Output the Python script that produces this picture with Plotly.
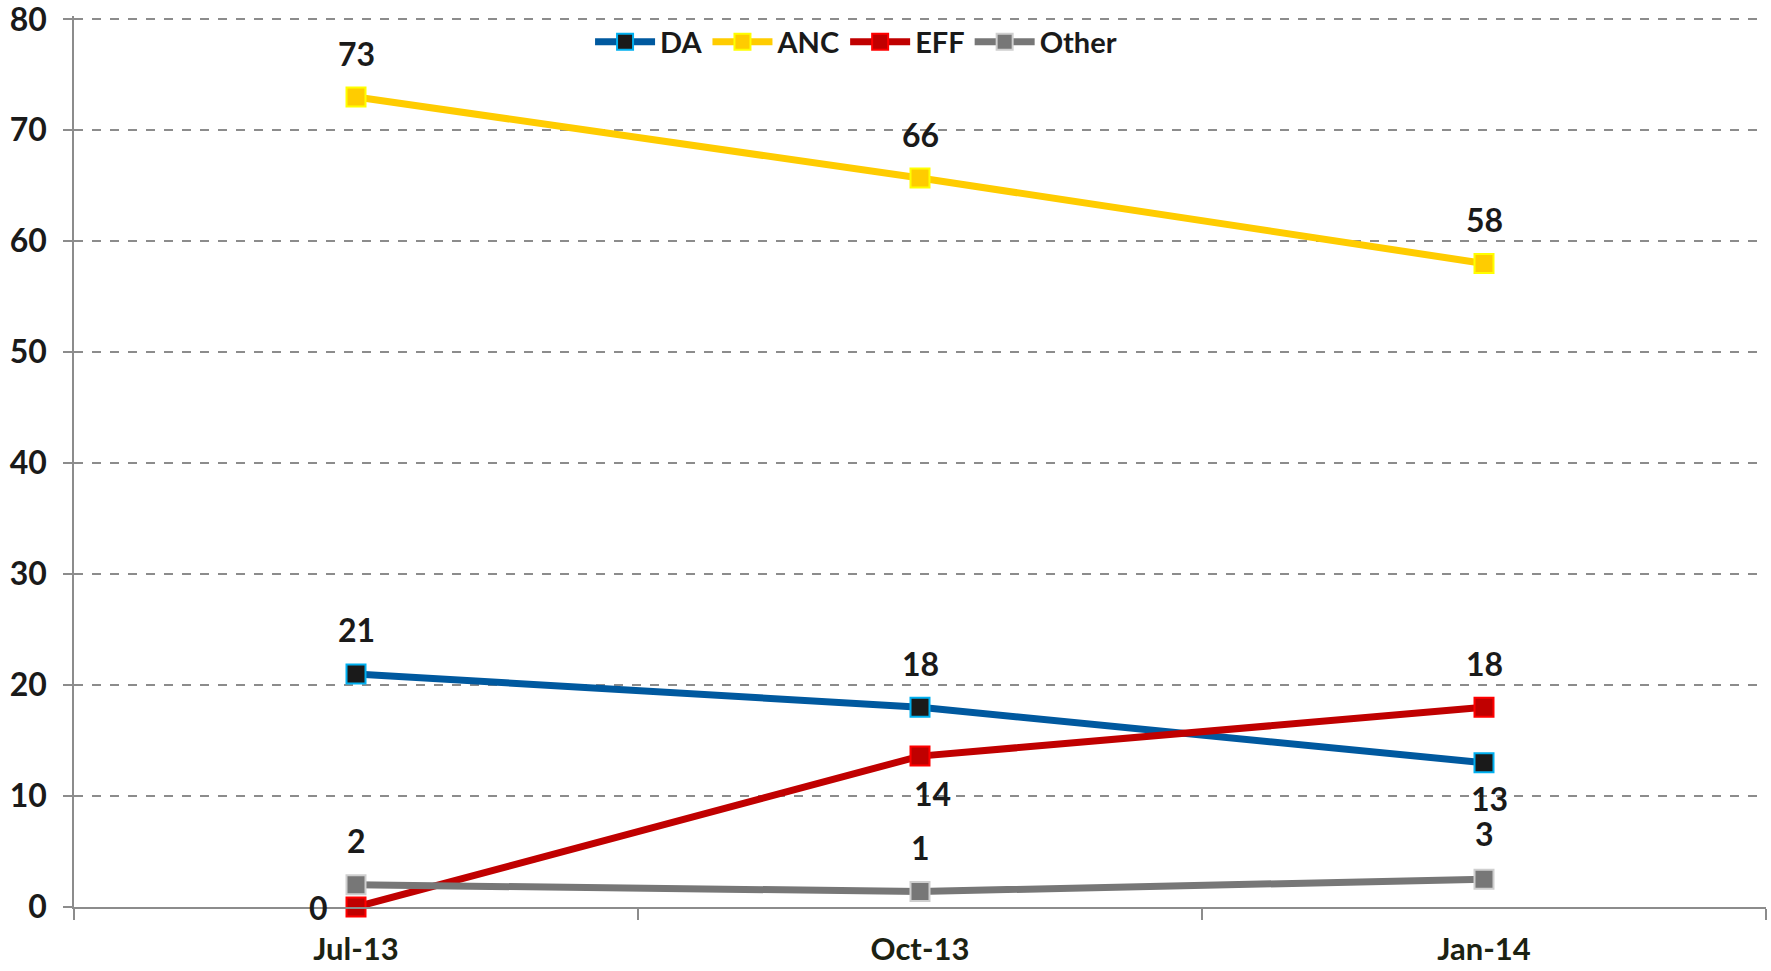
import plotly.graph_objects as go

categories = ["Jul-13", "Oct-13", "Jan-14"]
da = [21, 18, 13]
anc = [73, 65.7, 58]
eff = [0, 13.6, 18]
other = [2, 1.4, 2.5]
series_names = ["DA", "ANC", "EFF", "Other"]
y_ticks = [0, 10, 20, 30, 40, 50, 60, 70, 80]

# label placement per point: (xshift, yshift)
label_pos = {
    "DA": [(0, 44), (0, 44), (5, -36)],
    "ANC": [(0, 44), (0, 44), (0, 44)],
    "EFF": [(-38, 0), (12, -37), (0, 44)],
    "Other": [(0, 44), (0, 44), (0, 46)],
}

styles = {
    "DA": dict(line="#00599f", fill="#1a1a1a", border="#00b0f0"),
    "ANC": dict(line="#ffcc00", fill="#ffcc00", border="#ffff00"),
    "EFF": dict(line="#c00000", fill="#c00000", border="#ff0000"),
    "Other": dict(line="#777777", fill="#777777", border="#cfcfcf"),
}

FONT = "Lato, 'Open Sans', sans-serif"
fig = go.Figure()
values = {"DA": da, "ANC": anc, "EFF": eff, "Other": other}
for name in series_names:
    s = styles[name]
    fig.add_trace(go.Scatter(
        x=categories, y=values[name], name=name, mode="lines+markers",
        line=dict(color=s["line"], width=7),
        marker=dict(symbol="square", size=19, color=s["fill"],
                    line=dict(color=s["border"], width=2)),
        cliponaxis=False,
    ))

annotations = []
for name in series_names:
    for i, (c, v) in enumerate(zip(categories, values[name])):
        xs, ys = label_pos[name][i]
        annotations.append(dict(
            x=c, y=v, xref="x", yref="y", text=str(int(v + 0.5)), showarrow=False,
            xshift=xs, yshift=ys,
            font=dict(family=FONT, size=32, color="#1a1a1a", weight="bold"),
        ))

fig.update_layout(
    width=1771, height=971,
    margin=dict(l=74, r=5, t=16, b=64, autoexpand=False),
    paper_bgcolor="white", plot_bgcolor="white",
    showlegend=True,
    legend=dict(orientation="h", x=0.305, y=0.971, xanchor="left", yanchor="middle",
                font=dict(family=FONT, size=29, color="#1a1a1a", weight="bold"),
                bgcolor="rgba(0,0,0,0)", itemsizing="trace", tracegroupgap=0,
                itemwidth=60),
    annotations=annotations,
)
fig.update_xaxes(
    type="category", range=[-0.5, 2.5], tickson="boundaries", automargin=False,
    showline=True, linecolor="#8c8c8c", linewidth=2,
    ticks="outside", ticklen=11, tickcolor="#8c8c8c", tickwidth=1.5,
    showgrid=False, zeroline=False, ticklabelstandoff=14,
    tickfont=dict(family=FONT, size=31, color="#1c2212", weight="bold"),
)
fig.update_yaxes(
    range=[0, 80.3], tickvals=y_ticks, automargin=False, ticklabeloverflow="allow",
    showline=True, linecolor="#8c8c8c", linewidth=1.5,
    ticks="outside", ticklen=9, tickcolor="#8c8c8c", tickwidth=1.5,
    showgrid=True, gridcolor="#8c8c8c", gridwidth=1.5, griddash="dash",
    zeroline=False, ticklabelstandoff=10,
    tickfont=dict(family=FONT, size=32, color="#1a1a1a", weight="bold"),
)

fig.write_html("out.html", config={"displayModeBar": False},
               post_script="document.body.style.margin='0';document.body.style.overflow='hidden';")
